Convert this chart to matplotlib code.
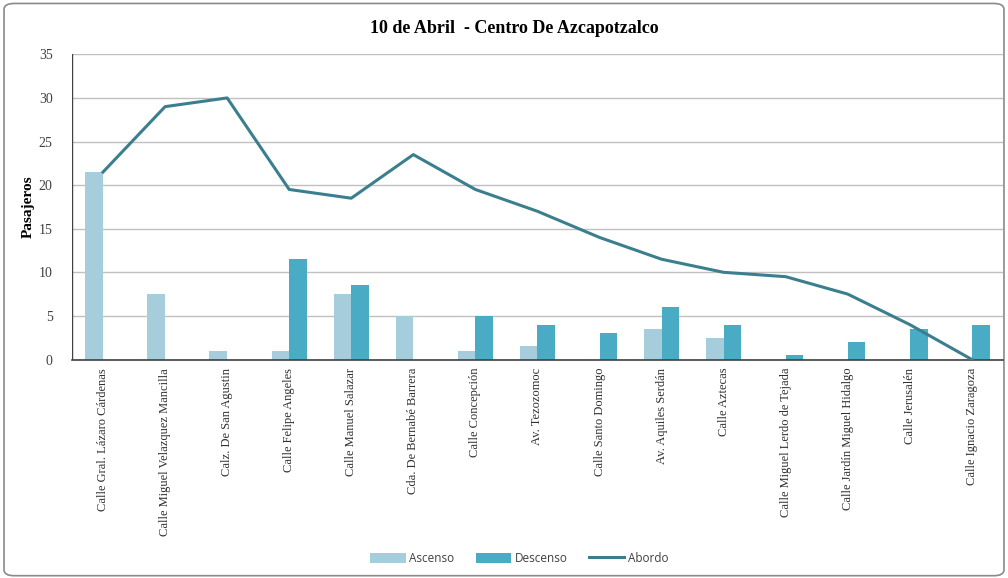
import matplotlib.pyplot as plt
import numpy as np
from matplotlib.patches import FancyBboxPatch

# Data
paradas = ['Calle Gral. Lázaro Cárdenas', 'Calle Miguel Velazquez Mancilla',
           'Calz. De San Agustin', 'Calle Felipe Angeles', 'Calle Manuel Salazar',
           'Cda. De Bernabé Barrera', 'Calle Concepción', 'Av. Tezozomoc',
           'Calle Santo Domingo', 'Av. Aquiles Serdán', 'Calle Aztecas',
           'Calle Miguel Lerdo de Tejada', 'Calle Jardín Miguel Hidalgo',
           'Calle Jerusalén', 'Calle Ignacio Zaragoza']
ascenso = [21.5, 7.5, 1, 1, 7.5, 5, 1, 1.5, 0, 3.5, 2.5, 0, 0, 0, 0]
descenso = [0, 0, 0, 11.5, 8.5, 0, 5, 4, 3, 6, 4, 0.5, 2, 3.5, 4]
abordo = [21.5, 29, 30, 19.5, 18.5, 23.5, 19.5, 17, 14, 11.5, 10, 9.5, 7.5, 4, 0]

c_asc = '#a5cddb'
c_desc = '#4aabc4'
c_line = '#3b7f8e'

fig = plt.figure(figsize=(10.08, 5.78), dpi=100)
fig.patches.append(FancyBboxPatch((0.004, 0.004), 0.992, 0.99, boxstyle='round,pad=0,rounding_size=0.01',
                                  transform=fig.transFigure, facecolor='white',
                                  edgecolor='#8a8a8a', linewidth=1.2, zorder=-1))
ax = fig.add_axes([0.0714, 0.378, 0.9236, 0.528])

x = np.arange(len(paradas))
w = 0.285
b1 = ax.bar(x - w / 2, ascenso, w, color=c_asc, label='Ascenso', zorder=2)
b2 = ax.bar(x + w / 2, descenso, w, color=c_desc, label='Descenso', zorder=2)
l1, = ax.plot(x, abordo, color=c_line, linewidth=2.2, label='Abordo', zorder=3)

ax.set_xlim(-0.5, len(paradas) - 0.5)
ax.set_ylim(0, 35)
ax.set_yticks(range(0, 36, 5))
ax.yaxis.grid(True, color='#c0c0c0', linewidth=1)
ax.set_axisbelow(True)
for s in ['top', 'right', 'left']:
    ax.spines[s].set_visible(False)
ax.spines['bottom'].set_color('#404040')
ax.spines['bottom'].set_linewidth(1.2)
ax.axvline(-0.5, color='#404040', linewidth=1)
ax.tick_params(axis='y', length=0, pad=14, labelsize=10, labelcolor='#404040')
ax.tick_params(axis='x', length=0, pad=6)
for t in ax.get_yticklabels():
    t.set_fontfamily('Liberation Serif')
ax.set_xticks(x)
ax.set_xticklabels(paradas, rotation=90, fontsize=9, family='Liberation Serif', color='#303030')
ax.set_ylabel('Pasajeros', fontsize=11, fontweight='bold', family='Liberation Serif')
ax.yaxis.set_label_coords(-0.04, 0.5)

fig.text(0.51, 0.951, '10 de Abril  - Centro De Azcapotzalco', ha='center', va='center',
         fontsize=13, fontweight='bold', family='Liberation Serif')

fig.legend([b1, b2, l1], ['Ascenso', 'Descenso', 'Abordo'], loc='center',
           bbox_to_anchor=(0.515, 0.034), ncol=3, frameon=False,
           prop={'family': 'Open Sans', 'size': 8.5}, labelcolor='#404040',
           handlelength=3.0, handleheight=0.9, columnspacing=1.8, handletextpad=0.3)

fig.savefig('out.png', dpi=100)
